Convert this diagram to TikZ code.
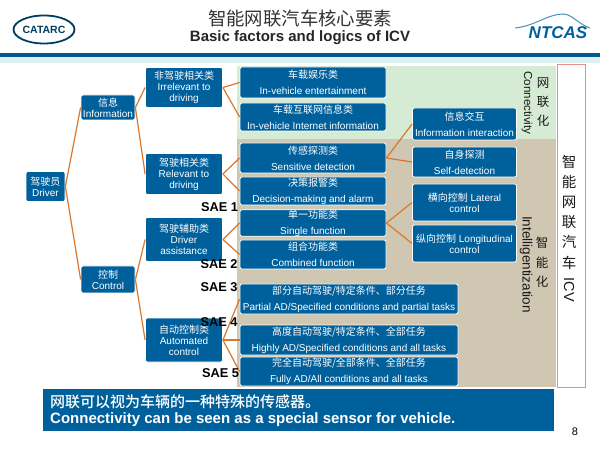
\documentclass[tikz,border=0pt]{standalone}
\usepackage{fontspec}
\setmainfont{Liberation Sans}
\newfontfamily\cjk{Noto Sans CJK SC}
\newfontfamily\cjkmed{Noto Sans CJK SC Medium}
\usetikzlibrary{shapes.geometric}
\definecolor{boxblue}{RGB}{0,96,156}
\definecolor{linkorange}{RGB}{217,120,45}
\definecolor{tanback}{RGB}{207,199,177}
\definecolor{greenback}{RGB}{214,235,212}
\definecolor{framered}{RGB}{232,140,140}
\definecolor{bandblue}{RGB}{0,88,140}
\definecolor{bandlight}{RGB}{220,239,243}
\tikzset{
  bluebox/.style={draw=white,line width=0.8pt,fill=boxblue,text=white,rounded corners=2pt,
    inner sep=0pt,align=center,font=\fontsize{10}{11}\selectfont},
  leftbox/.style={bluebox,minimum width=77pt},
  midbox/.style={bluebox,minimum width=146pt},
  widebox/.style={bluebox,minimum width=218pt},
  rightbox/.style={bluebox,minimum width=104pt},
  orangeline/.style={draw=linkorange,line width=1.2pt},
  saelabel/.style={inner sep=0pt,font=\fontsize{12.8}{14}\bfseries\selectfont},
  sidelabel/.style={inner sep=0pt,align=center,text=black!90}
}
\begin{document}
\begin{tikzpicture}[x=1pt,y=-1pt]
      \useasboundingbox (0,0) rectangle (600,449);
      \fill[white] (0,0) rectangle (600,449);
      % header
      \fill[bandblue] (0,53) rectangle (600,57);
      \fill[bandlight] (0,57) rectangle (600,63);
      \node[inner sep=0pt,text=black!80,font=\fontsize{18.4}{20}\selectfont\cjk] (titleZh) at (300,18.5) {智能网联汽车核心要素};
      \node[inner sep=0pt,text=black!85,font=\fontsize{15}{17}\bfseries\selectfont] (titleEn) at (300,37.5) {Basic factors and logics of ICV};
      \node[draw=bandblue!70!black,line width=1.8pt,ellipse,minimum width=61pt,minimum height=28pt,inner sep=0pt,
        text=bandblue!70!black,font=\fontsize{10.5}{12}\bfseries\selectfont] (catarcLogo) at (44,29.5) {CATARC};
      \node[inner sep=0pt,text=boxblue,font=\fontsize{17}{19}\bfseries\itshape\selectfont] (ntcasLogo) at (558,32.5) {NTCAS};
      \draw[boxblue!70,line width=1pt] (515,28) .. controls (535,26) and (548,14) .. (563,14) .. controls (572,14) and (578,24) .. (590,28);
      % coloured areas
      \fill[greenback] (236.5,66) rectangle (556,139);
      \fill[tanback] (236.5,139) rectangle (556,387);
      \draw[framered,fill=white,line width=1pt] (557,65) rectangle (585,387);
      % tree
      \node[bluebox,minimum width=39pt,minimum height=30pt] (driverBox) at (45.5,186.5) {{\cjk 驾驶员}\\Driver};
      \node[bluebox,minimum width=54pt,minimum height=25pt] (infoBox) at (108,107.5) {{\cjk 信息}\\Information};
      \node[bluebox,minimum width=54pt,minimum height=27pt] (controlBox) at (108,279.5) {{\cjk 控制}\\Control};
      \node[leftbox,minimum height=40pt] (irrelevantBox) at (184,87.5) {{\cjk 非驾驶相关类}\\Irrelevant to\\driving};
      \node[leftbox,minimum height=41pt] (relevantBox) at (184,174) {{\cjk 驾驶相关类}\\Relevant to\\driving};
      \node[leftbox,minimum height=44pt] (assistBox) at (184,239.5) {{\cjk 驾驶辅助类}\\Driver\\assistance};
      \node[leftbox,minimum height=44pt] (autoBox) at (184,340) {{\cjk 自动控制类}\\Automated\\control};
      \node[midbox,minimum height=31pt] (entBox) at (313,82.5) {{\cjk 车载娱乐类}\\[5pt]In-vehicle entertainment};
      \node[midbox,minimum height=28pt] (netBox) at (313,117) {{\cjk 车载互联网信息类}\\[5pt]In-vehicle Internet information};
      \node[midbox,minimum height=30pt] (sensBox) at (313,158) {{\cjk 传感探测类}\\[5pt]Sensitive detection};
      \node[midbox,minimum height=28pt] (decisionBox) at (313,191) {{\cjk 决策报警类}\\[5pt]Decision-making and alarm};
      \node[midbox,minimum height=26pt] (singleBox) at (313,223) {{\cjk 单一功能类}\\[5pt]Single function};
      \node[midbox,minimum height=29pt] (combinedBox) at (313,254.5) {{\cjk 组合功能类}\\[5pt]Combined function};
      \node[widebox,minimum height=30pt] (partialBox) at (349,299) {{\cjk 部分自动驾驶/特定条件、部分任务}\\[5pt]Partial AD/Specified conditions and partial tasks};
      \node[widebox,minimum height=30pt] (highlyBox) at (349,340) {{\cjk 高度自动驾驶/特定条件、全部任务}\\[5pt]Highly AD/Specified conditions and all tasks};
      \node[widebox,minimum height=29pt] (fullyBox) at (349,371.5) {{\cjk 完全自动驾驶/全部条件、全部任务}\\[5pt]Fully AD/All conditions and all tasks};
      \node[rightbox,minimum height=32pt] (interactBox) at (464.5,124) {{\cjk 信息交互}\\[5pt]Information interaction};
      \node[rightbox,minimum height=30pt] (selfBox) at (464.5,162) {{\cjk 自身探测}\\[5pt]Self-detection};
      \node[rightbox,minimum height=37pt] (lateralBox) at (464.5,202.5) {{\cjk 横向控制} Lateral\\control};
      \node[rightbox,minimum height=37pt] (longBox) at (464.5,243.5) {{\cjk 纵向控制} Longitudinal\\control};
      \foreach \from/\to in {driverBox/infoBox,driverBox/controlBox,infoBox/irrelevantBox,infoBox/relevantBox,
        controlBox/assistBox,controlBox/autoBox,irrelevantBox/entBox,irrelevantBox/netBox,relevantBox/sensBox,
        relevantBox/decisionBox,assistBox/singleBox,assistBox/combinedBox,autoBox/partialBox,autoBox/highlyBox,
        autoBox/fullyBox,sensBox/interactBox,sensBox/selfBox,singleBox/lateralBox,singleBox/longBox}
        \draw[orangeline] (\from.east) -- (\to.west);
      % SAE levels
      \node[saelabel] (saeOne) at (219.5,207) {SAE 1};
      \node[saelabel] (saeTwo) at (219,264) {SAE 2};
      \node[saelabel] (saeThree) at (219,287) {SAE 3};
      \node[saelabel] (saeFour) at (219,322) {SAE 4};
      \node[saelabel] (saeFive) at (220.5,373) {SAE 5};
      % side labels
      \node[sidelabel,font=\fontsize{12.5}{19}\selectfont\cjk] (connectZh) at (543,102) {网\\联\\化};
      \node[sidelabel,rotate=-90,font=\fontsize{11.6}{13}\selectfont] (connectEn) at (527,103) {Connectivity};
      \node[sidelabel,font=\fontsize{12.5}{19.5}\selectfont\cjk] (intelZh) at (542,262.5) {智\\能\\化};
      \node[sidelabel,rotate=-90,font=\fontsize{13.5}{15}\selectfont] (intelEn) at (526,264.5) {Intelligentization};
      \node[sidelabel,font=\fontsize{14.5}{20.2}\selectfont\cjk] (icvZh) at (569,212) {智\\能\\网\\联\\汽\\车};
      \node[sidelabel,rotate=-90,font=\fontsize{14.5}{16}\selectfont] (icvEn) at (569,290) {ICV};
      % bottom banner
      \fill[boxblue] (43,389) rectangle (554,431);
      \node[inner sep=0pt,anchor=west,text=white,font=\fontsize{15}{16}\selectfont\cjkmed] (bannerZh) at (50,402) {网联可以视为车辆的一种特殊的传感器。};
      \node[inner sep=0pt,anchor=west,text=white,font=\fontsize{15}{17}\bfseries\selectfont] (bannerEn) at (50,420) {Connectivity can be seen as a special sensor for vehicle.};
      \node[inner sep=0pt,font=\fontsize{11}{12}\selectfont] (pageNum) at (575,432) {8};
    \end{tikzpicture}
\end{document}
